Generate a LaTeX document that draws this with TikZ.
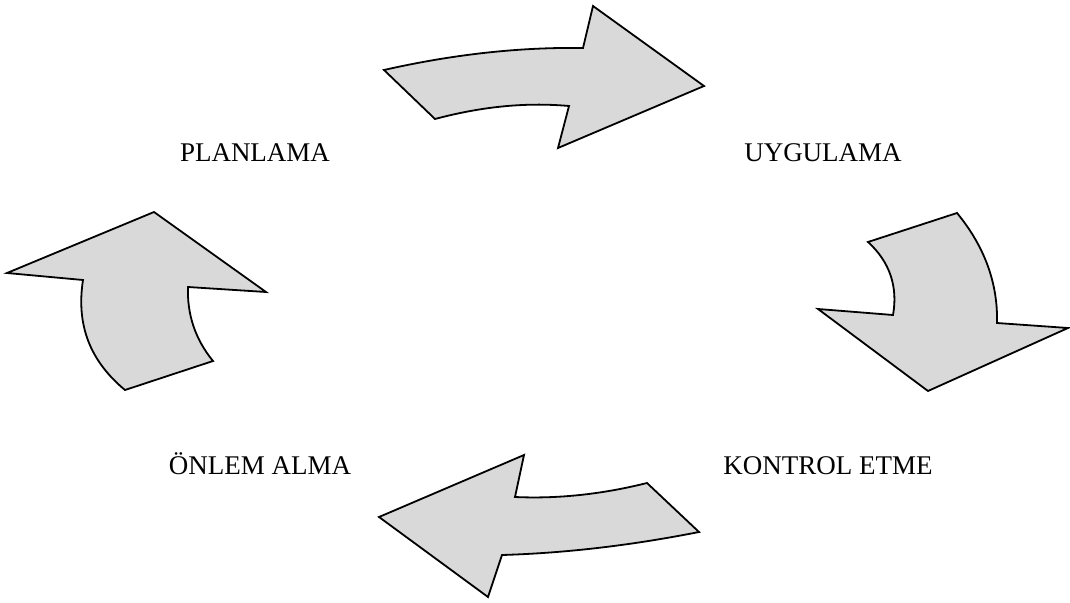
\documentclass[tikz,border=0pt]{standalone}
\usepackage{fontspec}
\setmainfont{Liberation Serif}
\begin{document}
\begin{tikzpicture}[x=1pt,y=-1pt,
  arrowshape/.style={draw=black,line width=1.8pt,fill=black!15},
  lbl/.style={font=\fontsize{27}{32}\selectfont,inner sep=0pt,anchor=base}]
\useasboundingbox (0,0) rectangle (1070,602);
% top arrow
\path[arrowshape] (384,70) .. controls (450,55) and (517,47) .. (583,48)
  -- (593,6) -- (704,86) -- (558,148) -- (569,106)
  .. controls (524,102) and (480,107) .. (435,119) -- cycle;
% right arrow
\path[arrowshape] (868,242) -- (957,213)
  .. controls (985,247) and (998,284) .. (997,323)
  -- (1068,328) -- (928,391) -- (818,309) -- (893,315)
  .. controls (898,287) and (890,262) .. (868,242) -- cycle;
% bottom arrow
\path[arrowshape] (379,517) -- (524,455) -- (515,497)
  .. controls (559,499) and (603,494) .. (647,483)
  -- (699,532)
  .. controls (633,545) and (568,553) .. (502,555)
  -- (488,597) -- cycle;
% left arrow
\path[arrowshape] (154,212) -- (266,292) -- (188,287)
  .. controls (187,314) and (195,339) .. (213,361)
  -- (125,390)
  .. controls (90,361) and (76,325) .. (83,280)
  -- (7,273) -- cycle;
% labels
\node[lbl] (plan) at (255,161) {PLANLAMA};
\node[lbl] (uyg) at (823,161) {UYGULAMA};
\node[lbl] (kont) at (828,474) {KONTROL ETME};
\node[lbl] (onlem) at (260,474) {ÖNLEM ALMA};
\end{tikzpicture}
\end{document}
